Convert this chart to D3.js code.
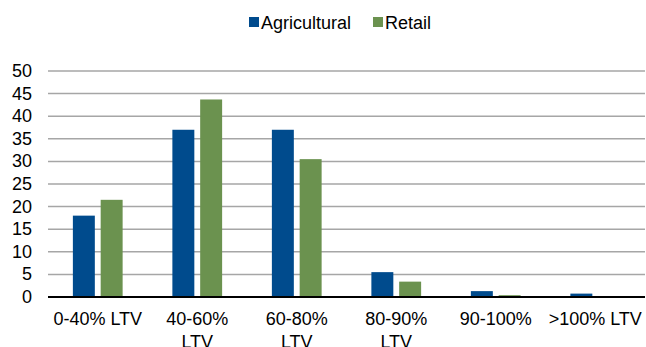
<!DOCTYPE html>
<html>
<head>
<meta charset="utf-8">
<script src="https://d3js.org/d3.v7.min.js"></script>
<style>
  body { margin: 0; background: #fff; }
  text { font-family: "Liberation Sans", Arial, sans-serif; fill: #000; }
</style>
</head>
<body>
<div id="area"></div>
<script>
var categories = [["0-40% LTV"], ["40-60%", "LTV"], ["60-80%", "LTV"], ["80-90%", "LTV"], ["90-100%"], [">100% LTV"]];
var seriesNames = ["Agricultural", "Retail"];
var agricultural = [18, 37, 37, 5.5, 1.3, 0.75];
var retail = [21.5, 43.7, 30.5, 3.4, 0.4, 0];
var yTicks = [0, 5, 10, 15, 20, 25, 30, 35, 40, 45, 50];

var colors = { "Agricultural": "#004b8d", "Retail": "#6b924f" };

var width = 646, height = 347;
var plotLeft = 48, plotRight = 645, plotTop = 71, plotBottom = 297;

var svg = d3.select("#area").append("svg")
    .attr("width", width)
    .attr("height", height);

var catKeys = categories.map(function(c) { return c.join(" "); });

var x = d3.scaleBand().domain(catKeys).range([plotLeft, plotRight]);
var bw = x.bandwidth();
var x1 = d3.scaleBand().domain(seriesNames)
    .range([bw * 0.25, bw * 0.75])
    .paddingInner(0.21);
var y = d3.scaleLinear().domain([0, 50]).range([plotBottom, plotTop]);

// gridlines
svg.append("g").selectAll("line")
  .data(yTicks.slice(1))
  .enter().append("line")
    .attr("x1", plotLeft).attr("x2", plotRight)
    .attr("y1", function(d) { return y(d); })
    .attr("y2", function(d) { return y(d); })
    .attr("stroke", "#a6a6a6")
    .attr("stroke-width", 1.5);

// y labels
svg.append("g").selectAll("text")
  .data(yTicks)
  .enter().append("text")
    .attr("x", 32)
    .attr("y", function(d) { return y(d) + 6; })
    .attr("text-anchor", "end")
    .attr("font-size", "18px")
    .text(function(d) { return d; });

// bars
var data = catKeys.map(function(k, i) {
  return { key: k, values: [
    { name: "Agricultural", v: agricultural[i] },
    { name: "Retail", v: retail[i] }
  ] };
});

var groups = svg.append("g").selectAll("g")
  .data(data)
  .enter().append("g")
    .attr("transform", function(d) { return "translate(" + x(d.key) + ",0)"; });

groups.selectAll("rect")
  .data(function(d) { return d.values.filter(function(v) { return v.v > 0; }); })
  .enter().append("rect")
    .attr("x", function(d) { return x1(d.name); })
    .attr("width", x1.bandwidth())
    .attr("y", function(d) { return y(d.v); })
    .attr("height", function(d) { return plotBottom - y(d.v); })
    .attr("fill", function(d) { return colors[d.name]; });

// baseline
svg.append("line")
    .attr("x1", plotLeft).attr("x2", plotRight)
    .attr("y1", plotBottom).attr("y2", plotBottom)
    .attr("stroke", "#000")
    .attr("stroke-width", 2);

// category labels
var labels = svg.append("g").selectAll("text")
  .data(categories)
  .enter().append("text")
    .attr("text-anchor", "middle")
    .attr("font-size", "18px")
    .attr("x", function(d) { return x(d.join(" ")) + bw / 2; })
    .attr("y", 325);

labels.selectAll("tspan")
  .data(function(d) { return d; })
  .enter().append("tspan")
    .attr("x", function() { return d3.select(this.parentNode).attr("x"); })
    .attr("dy", function(d, i) { return i === 0 ? 0 : 23; })
    .text(function(d) { return d; });

// legend
var legendPos = [249, 373];
var legend = svg.append("g").selectAll("g")
  .data(seriesNames)
  .enter().append("g")
    .attr("transform", function(d, i) { return "translate(" + legendPos[i] + ",0)"; });

legend.append("rect")
    .attr("x", 0).attr("y", 17)
    .attr("width", 10).attr("height", 10)
    .attr("fill", function(d) { return colors[d]; });

legend.append("text")
    .attr("x", 12).attr("y", 29)
    .attr("font-size", "18px")
    .text(function(d) { return d; });
</script>
</body>
</html>
